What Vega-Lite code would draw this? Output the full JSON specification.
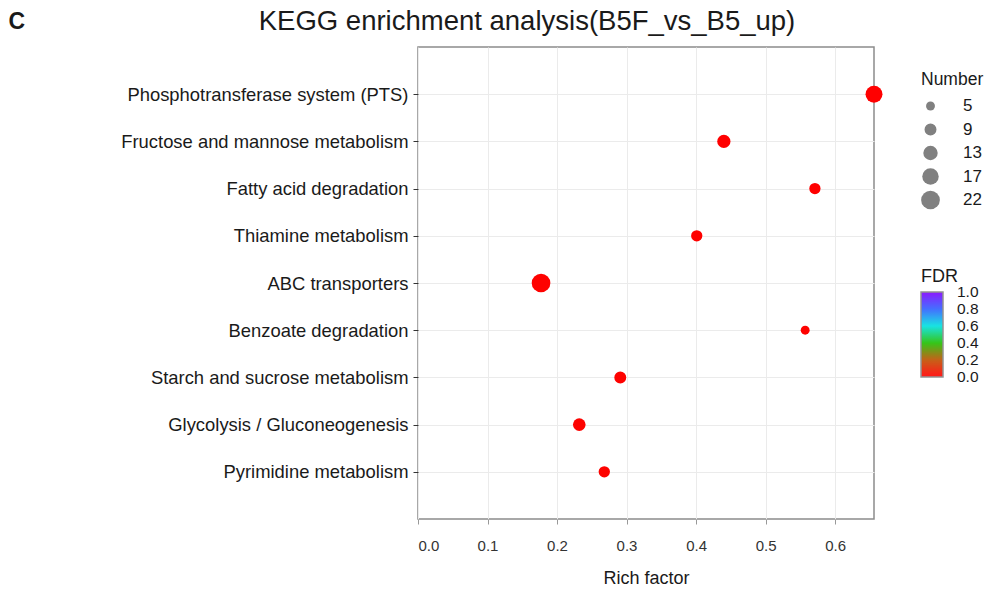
{
  "$schema": "https://vega.github.io/schema/vega-lite/v6.json",
  "width": 456,
  "height": 472,
  "autosize": {"type": "none"},
  "padding": {"left": 418, "top": 47, "right": 113, "bottom": 73},
  "background": "white",
  "title": {
    "text": "KEGG enrichment analysis(B5F_vs_B5_up)",
    "anchor": "middle",
    "frame": "group",
    "dx": -119,
    "fontSize": 27.5,
    "fontWeight": "normal",
    "font": "Liberation Sans",
    "color": "#1a1a1a",
    "offset": -25
  },
  "data": {
    "values": [
      {"pathway": "Phosphotransferase system (PTS)", "rich": 0.656, "number": 18, "fdr": 0.0001},
      {"pathway": "Fructose and mannose metabolism", "rich": 0.44, "number": 11, "fdr": 0.0005},
      {"pathway": "Fatty acid degradation", "rich": 0.571, "number": 8, "fdr": 0.001},
      {"pathway": "Thiamine metabolism", "rich": 0.401, "number": 8, "fdr": 0.003},
      {"pathway": "ABC transporters", "rich": 0.177, "number": 22, "fdr": 0.005},
      {"pathway": "Benzoate degradation", "rich": 0.557, "number": 5, "fdr": 0.006},
      {"pathway": "Starch and sucrose metabolism", "rich": 0.291, "number": 9, "fdr": 0.007},
      {"pathway": "Glycolysis / Gluconeogenesis", "rich": 0.232, "number": 10, "fdr": 0.008},
      {"pathway": "Pyrimidine metabolism", "rich": 0.268, "number": 8, "fdr": 0.009}
    ]
  },
  "mark": {"type": "circle", "opacity": 1, "clip": false},
  "encoding": {
    "x": {
      "field": "rich",
      "type": "quantitative",
      "scale": {"domain": [0, 0.656], "nice": false, "zero": true},
      "axis": {
        "title": "Rich factor",
        "values": [0, 0.1, 0.2, 0.3, 0.4, 0.5, 0.6],
        "format": ".1f",
        "labelFontSize": 15,
        "labelPadding": 14,
        "titleFontSize": 18,
        "titlePadding": 16
      }
    },
    "y": {
      "field": "pathway",
      "type": "nominal",
      "sort": null,
      "scale": {"type": "point", "padding": 1},
      "axis": {
        "title": "C",
        "titleAngle": 0,
        "titleX": -410,
        "titleY": -37,
        "titleAlign": "left",
        "titleBaseline": "top",
        "titleFontSize": 23,
        "titleFontWeight": 600,
        "titleColor": "#1a1a1a",
        "labelFontSize": 18.4,
        "labelLimit": 0,
        "labelColor": "#1a1a1a",
        "tickColor": "#333333",
        "labelPadding": 5
      }
    },
    "size": {
      "field": "number",
      "type": "quantitative",
      "scale": {"domain": [0, 22], "range": [0, 350], "zero": true},
      "legend": {
        "title": "Number",
        "values": [5, 9, 13, 17, 22],
        "orient": "none",
        "legendX": 503,
        "legendY": 24,
        "symbolFillColor": "#808080",
        "symbolStrokeColor": "#808080",
        "symbolStrokeWidth": 0,
        "symbolOpacity": 1,
        "labelFontSize": 17,
        "labelColor": "#1a1a1a",
        "titleFontSize": 17.5,
        "titleFontWeight": "normal",
        "titleColor": "#1a1a1a",
        "titlePadding": 9,
        "rowPadding": 5.5,
        "labelOffset": 23
      }
    },
    "color": {
      "field": "fdr",
      "type": "quantitative",
      "scale": {
        "domain": [0, 0.05, 0.2, 0.4, 0.6, 0.8, 1.0],
        "range": ["#ff0000", "#f51000", "#c05000", "#20c000", "#00e0e0", "#3060ff", "#8000ff"],
        "interpolate": "rgb"
      },
      "legend": {
        "title": "FDR",
        "orient": "none",
        "legendX": 503,
        "legendY": 221,
        "direction": "vertical",
        "values": [0, 0.2, 0.4, 0.6, 0.8, 1.0],
        "format": ".1f",
        "labelOverlap": false,
        "gradientLength": 85,
        "gradientThickness": 22,
        "gradientStrokeColor": "#888888",
        "gradientStrokeWidth": 1.5,
        "gradientOpacity": 0.9,
        "labelFontSize": 15.5,
        "labelColor": "#1a1a1a",
        "labelOffset": 14,
        "titleFontSize": 18,
        "titleFontWeight": "normal",
        "titleColor": "#1a1a1a",
        "titlePadding": 6,
        "encode": {
          "labels": {
            "enter": {"baseline": {"value": "middle"}},
            "update": {"baseline": {"value": "middle"}}
          }
        }
      }
    }
  },
  "config": {
    "font": "Liberation Sans",
    "view": {"stroke": "#8c8c8c", "strokeWidth": 1.5},
    "axis": {
      "domain": false,
      "grid": true,
      "gridColor": "#ebebeb",
      "gridWidth": 1,
      "labelFont": "Liberation Sans",
      "titleFont": "Liberation Sans",
      "labelColor": "#333333",
      "titleFontWeight": "normal",
      "titleColor": "#1a1a1a",
      "tickColor": "#999999",
      "tickSize": 5
    },
    "legend": {"labelFont": "Liberation Sans", "titleFont": "Liberation Sans"}
  }
}
